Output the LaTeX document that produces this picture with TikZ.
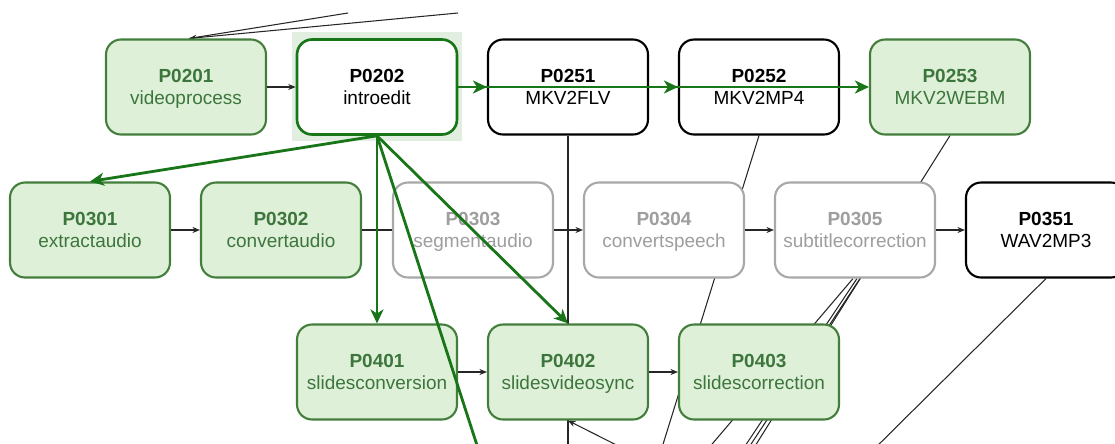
\documentclass[tikz,border=0pt]{standalone}
\usepackage{fontspec}
\setmainfont{Liberation Sans}
\usetikzlibrary{arrows.meta,backgrounds}
\definecolor{okfill}{HTML}{DFF0D8}
\definecolor{okline}{HTML}{437E3C}
\definecolor{oktext}{HTML}{3C763D}
\definecolor{offline}{HTML}{A8A8A8}
\definecolor{offtext}{HTML}{9E9E9E}
\definecolor{selgreen}{HTML}{187518}
\definecolor{selglow}{HTML}{E2EEDF}
\newcommand{\jobtext}[2]{\rule{0pt}{11.5pt}\textbf{#1}\\#2\strut}
\tikzset{
  job/.style={rectangle,rounded corners=0.3cm,minimum width=3.2cm,minimum height=1.9cm,
    line width=1.2pt,align=center,font=\fontsize{10.8}{12.5}\selectfont},
  done/.style={job,draw=okline,fill=okfill,text=oktext},
  idle/.style={job,draw=offline,fill=white,text=offtext},
  todo/.style={job,draw=black,fill=white},
  picked/.style={job,draw=selgreen,fill=white,line width=1.5pt},
  dep/.style={draw=black!85,line width=0.6pt,-{Stealth[length=0.15cm,width=0.12cm]}},
  link/.style={draw=black!85,line width=0.6pt},
  hot/.style={draw=selgreen,line width=1.6pt,-{Stealth[length=0.28cm,width=0.26cm,inset=0.08cm]}}
}
\begin{document}
\begin{tikzpicture}[x=0.02cm,y=-0.02cm]
\useasboundingbox (0,0) rectangle (1115,443);
\clip (0,0) rectangle (1115,443);
\node[done] (P0201) at (186,87) {\jobtext{P0201}{videoprocess}};
\node[picked] (P0202) at (377,87) {\jobtext{P0202}{introedit}};
\node[todo] (P0251) at (568,87) {\jobtext{P0251}{MKV2FLV}};
\node[todo] (P0252) at (759,87) {\jobtext{P0252}{MKV2MP4}};
\node[done] (P0253) at (950,87) {\jobtext{P0253}{MKV2WEBM}};
\node[done] (P0301) at (90,230) {\jobtext{P0301}{extractaudio}};
\node[done] (P0302) at (281,230) {\jobtext{P0302}{convertaudio}};
\node[idle] (P0303) at (473,230) {\jobtext{P0303}{segmentaudio}};
\node[idle] (P0304) at (664,230) {\jobtext{P0304}{convertspeech}};
\node[idle] (P0305) at (855,230) {\jobtext{P0305}{subtitlecorrection}};
\node[todo] (P0351) at (1046,230) {\jobtext{P0351}{WAV2MP3}};
\node[done] (P0401) at (377,372) {\jobtext{P0401}{slidesconversion}};
\node[done] (P0402) at (568,372) {\jobtext{P0402}{slidesvideosync}};
\node[done] (P0403) at (759,372) {\jobtext{P0403}{slidescorrection}};
\coordinate (t1) at (348,13);
\coordinate (t2) at (458,13);
\coordinate (b1) at (485,470);
\coordinate (b2) at (568,470);
\coordinate (b3) at (652,463);
\coordinate (b4) at (655,470);
\coordinate (b5) at (690,470);
\coordinate (b6) at (729,470);
\coordinate (b7) at (734,470);
\coordinate (b8) at (740,470);
\coordinate (b9) at (853,470);
\begin{scope}[on background layer]
\fill[selglow] ([xshift=-0.08cm,yshift=0.12cm]P0202.north west) rectangle ([xshift=0.08cm,yshift=-0.1cm]P0202.south east);
\draw[link] (t1) -- ([xshift=0.06cm]P0201.north);
\draw[dep] (t2) -- ([xshift=0.06cm]P0201.north);
\draw[link] (P0251.south) -- (b2);
\draw[dep] (b3) -- (P0402.south);
\draw[link] (P0252.south) -- (b4);
\draw[link] ([xshift=-0.04cm]P0305.south) -- (b5);
\draw[link] ([xshift=0.04cm]P0305.south) -- (b6);
\draw[link] ([xshift=0.1cm]P0305.south) -- (b7);
\draw[link] (P0253.south) -- (b8);
\draw[link] (P0351.south) -- (b9);
\end{scope}
\draw[dep] (P0201) -- (P0202);
\draw[dep] (P0301) -- (P0302);
\draw[link] (P0302) -- (P0303);
\draw[dep] (P0303) -- (P0304);
\draw[dep] (P0304) -- (P0305);
\draw[dep] (P0305) -- (P0351);
\draw[dep] (P0401) -- (P0402);
\draw[dep] (P0402) -- (P0403);
\draw[hot] (P0202) -- (P0251);
\draw[hot] (P0202) -- (P0252);
\draw[hot] (P0202) -- (P0253);
\draw[hot] (P0202.south) -- (P0301.north);
\draw[hot] (P0202.south) -- (P0401.north);
\draw[hot] (P0202.south) -- (P0402.north);
\draw[hot,-] (P0202.south) -- (b1);
\end{tikzpicture}
\end{document}
